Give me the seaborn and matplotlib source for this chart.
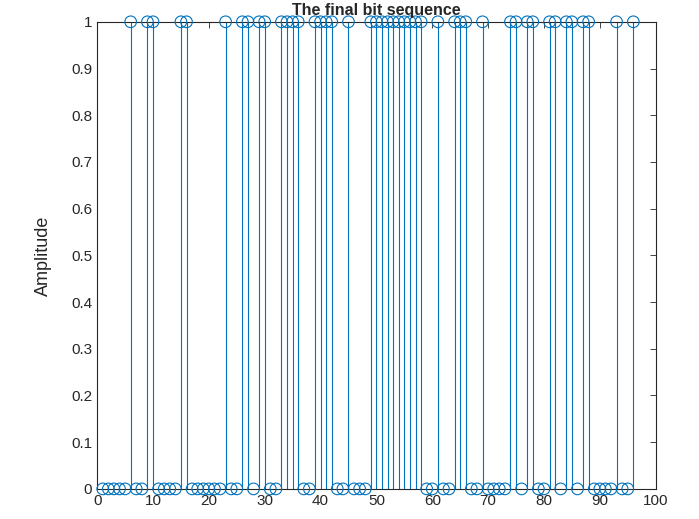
import numpy as np
import pandas as pd
import matplotlib
matplotlib.use("Agg")
import matplotlib.pyplot as plt
import seaborn as sns

# bit positions that are 1, sequence length 96
n_bits = 96
one_positions = [6, 9, 10, 15, 16, 23, 26, 27, 29, 30, 33, 34, 35, 36, 39, 40, 41, 42,
                 45, 49, 50, 51, 52, 53, 54, 55, 56, 57, 58, 61, 64, 65, 66, 69, 74, 75,
                 77, 78, 81, 82, 84, 85, 87, 88, 93, 96]

idx = np.arange(1, n_bits + 1)
bits = np.isin(idx, one_positions).astype(int)
df = pd.DataFrame({"n": idx, "bit": bits})

sns.set_style("white")
plt.rcParams["font.family"] = ["Liberation Sans", "DejaVu Sans"]

blue = "#0072BD"
fig = plt.figure(figsize=(6.99, 5.19), dpi=100)
ax = fig.add_axes([0.139, 0.058, 0.799, 0.9])

# stems
ax.vlines(df["n"], 0, df["bit"], color=blue, linewidth=0.8)
sns.scatterplot(data=df, x="n", y="bit", ax=ax, marker="o", s=70,
                facecolor="none", edgecolor=blue, linewidth=0.8, clip_on=False,
                zorder=3)

ax.set_xlim(0, 100)
ax.set_ylim(0, 1)
ax.set_xticks(np.arange(0, 101, 10))
ax.set_yticks(np.round(np.arange(0, 1.01, 0.1), 1))
ax.set_yticklabels(["0"] + [f"{v:.1f}" for v in np.arange(0.1, 0.95, 0.1)] + ["1"])
ax.set_xlabel("")
ax.set_ylabel("Amplitude", fontsize=13, color="#262626", labelpad=14)
ax.set_title("The final bit sequence", fontsize=11.5, fontweight="bold", pad=5)
ax.tick_params(direction="in", top=True, right=True, length=4, labelsize=11,
               colors="#262626", width=0.6)
for s in ax.spines.values():
    s.set_color("#262626")
    s.set_linewidth(0.8)

fig.savefig("out.png", dpi=100)
